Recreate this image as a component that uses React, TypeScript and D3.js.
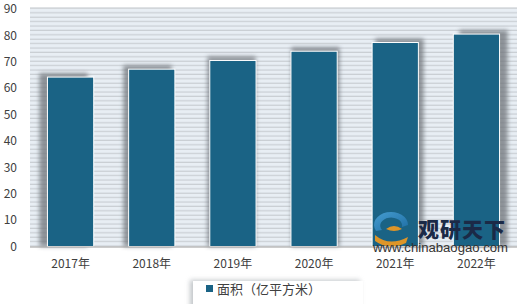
import React from "react";
import * as d3 from "d3";

const categories = ["2017年", "2018年", "2019年", "2020年", "2021年", "2022年"];
const values = [64.2, 67.2, 70.5, 74.0, 77.3, 80.5];
const yTicks = [0, 10, 20, 30, 40, 50, 60, 70, 80, 90];
const seriesName = "面积（亿平方米）";

const W = 520;
const H = 304;
const plot = { left: 30, right: 517, top: 9, bottom: 246.5 };
const FONT = "'Noto Sans CJK SC', 'Noto Sans', sans-serif";

export default function App() {
  const x = d3
    .scaleBand<string>()
    .domain(categories)
    .range([plot.left, plot.right])
    .paddingInner(0.43)
    .paddingOuter(0.215);
  const y = d3.scaleLinear().domain([0, 90]).range([plot.bottom, plot.top]);
  const cx = (plot.left + plot.right) / 2;

  return (
    <div style={{ position: "absolute", left: 0, top: 0 }}>
      <svg width={W} height={H} style={{ display: "block" }}>
        <defs>
          <pattern id="stripes" width="8" height="4.4" patternUnits="userSpaceOnUse" y={plot.top}>
            <rect width="8" height="4.4" fill="#e8eef4" />
            <rect y="3.2" width="8" height="1.2" fill="#c9ced3" />
          </pattern>
          <filter id="blur" x="-30%" y="-30%" width="160%" height="160%">
            <feGaussianBlur stdDeviation="2" />
          </filter>
          <filter id="lblur" x="-10%" y="-40%" width="120%" height="180%">
            <feGaussianBlur stdDeviation="2.5" />
          </filter>
          <linearGradient id="logoBlue" x1="0" y1="0" x2="1" y2="1">
            <stop offset="0" stopColor="#4aa3d8" />
            <stop offset="1" stopColor="#1f6fa8" />
          </linearGradient>
        </defs>
        <rect x={0} y={0} width={W} height={H} fill="#ffffff" />
        <rect
          x={plot.left}
          y={plot.top - 1}
          width={plot.right - plot.left}
          height={plot.bottom - plot.top + 1}
          fill="url(#stripes)"
        />
        <line x1={plot.left} x2={plot.right} y1={plot.top - 1} y2={plot.top - 1} stroke="#d4d8dc" strokeWidth={1.5} />

        {categories.map((c, i) => {
          const bx = x(c)!;
          const bw = x.bandwidth();
          const bc = bx + bw / 2;
          const sc = cx + (bc - cx) * 1.035;
          const top = y(values[i]);
          return (
            <rect
              key={"s" + c}
              x={sc - bw / 2 - 1}
              y={top - 4}
              width={bw + 2}
              height={plot.bottom - top + 4}
              fill="#6f747a"
              opacity={0.75}
              filter="url(#blur)"
            />
          );
        })}

        {categories.map((c, i) => (
          <rect
            key={c}
            x={x(c)!}
            y={y(values[i])}
            width={x.bandwidth()}
            height={plot.bottom - y(values[i])}
            fill="#1a6385"
            stroke="#ffffff"
            strokeWidth={1}
          />
        ))}

        <line x1={plot.left} x2={plot.right} y1={plot.bottom + 0.5} y2={plot.bottom + 0.5} stroke="#9a9a9a" strokeWidth={1.2} />

        {yTicks.map((t) => (
          <text
            key={t}
            x={17}
            y={y(t)}
            dy="0.35em"
            textAnchor="end"
            fontFamily={FONT}
            fontSize={12}
            fill="#404040"
          >
            {t}
          </text>
        ))}

        {categories.map((c) => (
          <text
            key={"l" + c}
            x={x(c)! + x.bandwidth() / 2}
            y={264}
            dy="0.35em"
            textAnchor="middle"
            fontFamily={FONT}
            fontSize={12}
            fill="#404040"
          >
            {c}
          </text>
        ))}

        {/* watermark */}
        <g>
          <path d="M376,231 a17,13 0 1,1 32,-6 l-6,2 a11,8 0 1,0 -20,3 z" fill="url(#logoBlue)" opacity={0.9} />
          <path d="M375,235 q14,12 33,2 l-2,6 q-17,8 -31,-2 z" fill="#f39a1e" opacity={0.9} />
          <path d="M386,229 q8,-6 16,0 q-8,4 -16,0 z" fill="#f39a1e" opacity={0.9} />
          <text x={418} y={230} dy="0.35em" fontFamily={FONT} fontSize={21} fontWeight={900} fill="#1b2a47" letterSpacing={1}>
            观研天下
          </text>
          <text
            x={373}
            y={248}
            dy="0.35em"
            fontFamily="'Liberation Sans', Arial, sans-serif"
            fontSize={12}
            fill="#333"
            textLength={135}
            lengthAdjust="spacingAndGlyphs"
          >
            www.chinabaogao.com
          </text>
        </g>

        {/* legend */}
        <rect x={190} y={280} width={170} height={30} fill="#9aa0a6" opacity={0.6} filter="url(#lblur)" />
        <rect x={193} y={281} width={170} height={30} fill="#ffffff" />
        <rect x={206} y={285} width={7} height={7} fill="#1a6385" />
        <text x={217} y={289} dy="0.35em" fontFamily={FONT} fontSize={13} fill="#404040">
          {seriesName}
        </text>
      </svg>
    </div>
  );
}
